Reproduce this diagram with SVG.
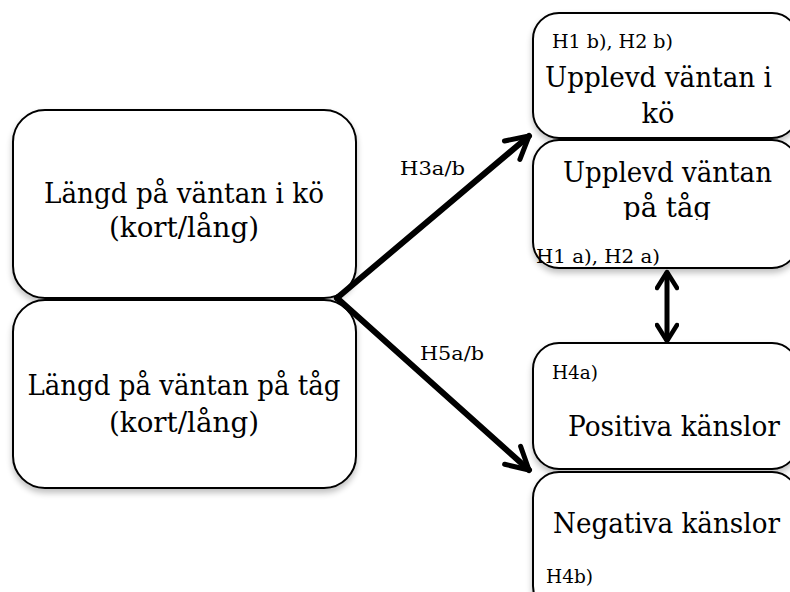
<svg xmlns="http://www.w3.org/2000/svg" width="790" height="592" viewBox="0 0 790 592">
<defs>
<filter id="sh" x="-10%" y="-10%" width="120%" height="130%">
<feGaussianBlur in="SourceAlpha" stdDeviation="3"/>
<feOffset dx="0" dy="4" result="b"/>
<feComponentTransfer><feFuncA type="linear" slope="0.25"/></feComponentTransfer>
<feMerge><feMergeNode/><feMergeNode in="SourceGraphic"/></feMerge>
</filter>
<marker id="open" viewBox="0 0 24 24" refX="20" refY="12" markerWidth="24" markerHeight="24" markerUnits="userSpaceOnUse" orient="auto-start-reverse">
<path d="M4,2 L20,12 L4,22" fill="none" stroke="#000" stroke-width="4.5" stroke-linecap="round" stroke-linejoin="round"/>
</marker>
<marker id="openBig" viewBox="0 0 30 30" refX="27" refY="15" markerWidth="30" markerHeight="30" markerUnits="userSpaceOnUse" orient="auto-start-reverse">
<path d="M5,3 L27,15 L5,27" fill="none" stroke="#000" stroke-width="5" stroke-linecap="round" stroke-linejoin="round"/>
</marker>
<clipPath id="clipTag"><rect x="533" y="140" width="260" height="80"/></clipPath>
</defs>
<style>
.box{fill:#fff;stroke:#000;stroke-width:2;filter:url(#sh)}
.t{font-family:"DejaVu Serif","Liberation Serif",serif;font-size:27px;fill:#000}
.s{font-family:"DejaVu Serif","Liberation Serif",serif;font-size:18px;fill:#000}
.edge{fill:none;stroke:#000;stroke-width:6;stroke-linecap:round}
</style>
<rect width="790" height="592" fill="#fff"/>

<g id="node-lang-ko">
<rect class="box" x="13" y="110" width="343" height="188" rx="32"/>
<text class="t" x="184" y="203" text-anchor="middle" textLength="280" lengthAdjust="spacingAndGlyphs">Längd på väntan i kö</text>
<text class="t" x="184" y="237" text-anchor="middle" textLength="150" lengthAdjust="spacingAndGlyphs">(kort/lång)</text>
</g>
<g id="node-lang-tag">
<rect class="box" x="13" y="300" width="343" height="188" rx="32"/>
<text class="t" x="184" y="395" text-anchor="middle" textLength="313" lengthAdjust="spacingAndGlyphs">Längd på väntan på tåg</text>
<text class="t" x="184" y="432" text-anchor="middle" textLength="150" lengthAdjust="spacingAndGlyphs">(kort/lång)</text>
</g>

<g id="node-upplevd-ko">
<rect class="box" x="533" y="13" width="265" height="125" rx="26"/>
<text class="s" x="552" y="48" textLength="121" lengthAdjust="spacingAndGlyphs">H1 b), H2 b)</text>
<text class="t" x="545" y="87" textLength="227" lengthAdjust="spacingAndGlyphs">Upplevd väntan i</text>
<text class="t" x="658" y="123" text-anchor="middle" textLength="33" lengthAdjust="spacingAndGlyphs">kö</text>
</g>
<g id="node-upplevd-tag">
<rect class="box" x="533" y="140" width="265" height="128" rx="26"/>
<text class="t" x="563" y="182" textLength="209" lengthAdjust="spacingAndGlyphs">Upplevd väntan</text>
<text class="t" x="667" y="217" text-anchor="middle" clip-path="url(#clipTag)" textLength="88" lengthAdjust="spacingAndGlyphs">på tåg</text>
<text class="s" x="536" y="263" textLength="124" lengthAdjust="spacingAndGlyphs">H1 a), H2 a)</text>
</g>
<g id="node-positiva">
<rect class="box" x="533" y="343" width="265" height="126" rx="26"/>
<text class="s" x="552" y="379" textLength="46" lengthAdjust="spacingAndGlyphs">H4a)</text>
<text class="t" x="568" y="436" textLength="212" lengthAdjust="spacingAndGlyphs">Positiva känslor</text>
</g>
<g id="node-negativa">
<rect class="box" x="533" y="472" width="265" height="140" rx="26"/>
<text class="t" x="553" y="533" textLength="227" lengthAdjust="spacingAndGlyphs">Negativa känslor</text>
<text class="s" x="546" y="583" textLength="47" lengthAdjust="spacingAndGlyphs">H4b)</text>
</g>

<g id="connectors">
<path class="edge" d="M337,298 L529,136" marker-end="url(#openBig)"/>
<path class="edge" d="M337,298 L529,470" marker-end="url(#openBig)"/>
<path fill="none" stroke="#000" stroke-width="5" d="M667,272 L667,341" marker-start="url(#open)" marker-end="url(#open)"/>
<text class="s" x="400" y="175" textLength="65" lengthAdjust="spacingAndGlyphs">H3a/b</text>
<text class="s" x="420" y="360" textLength="64" lengthAdjust="spacingAndGlyphs">H5a/b</text>
</g>
</svg>
